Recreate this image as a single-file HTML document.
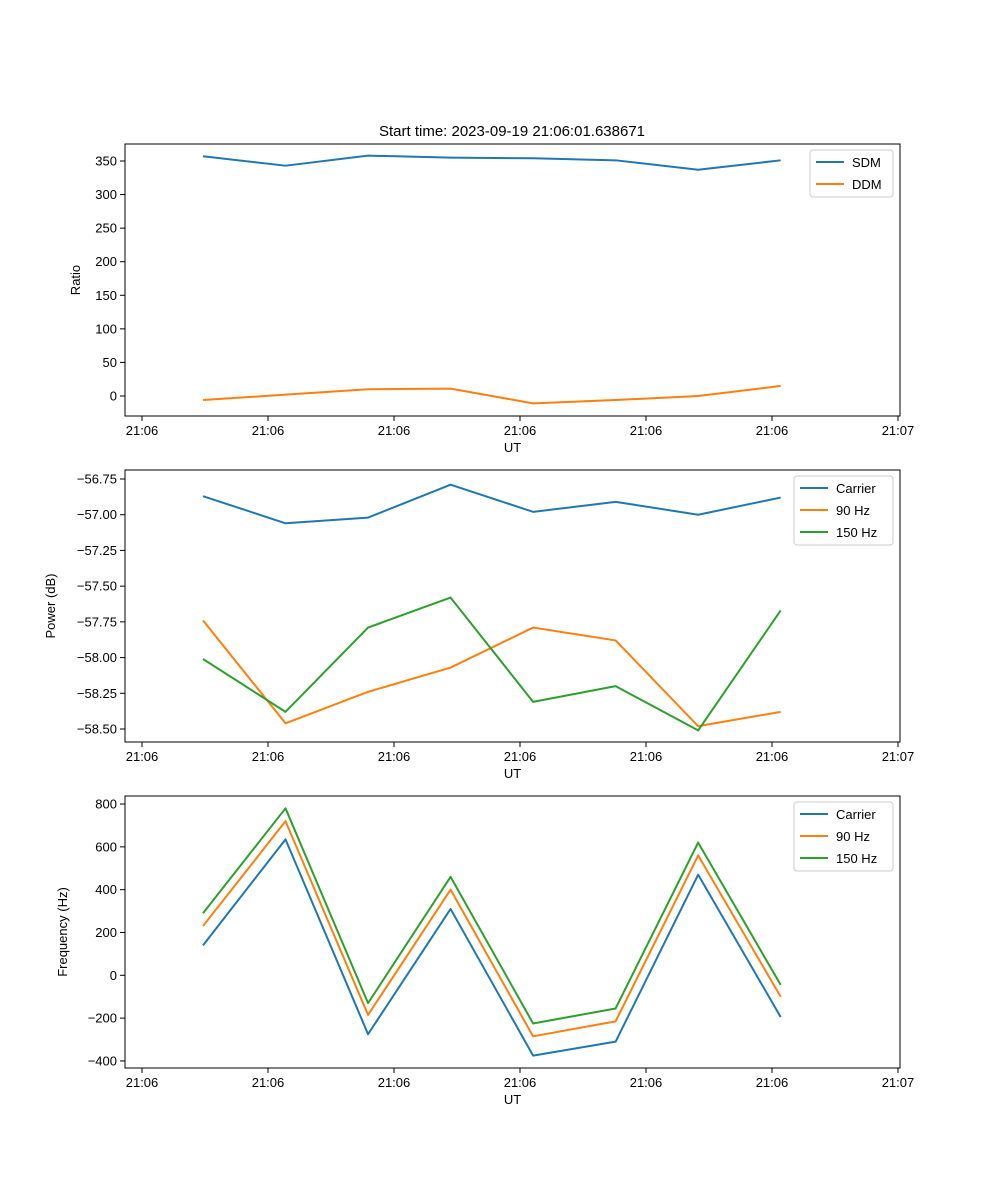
<!DOCTYPE html>
<html><head><meta charset="utf-8"><style>
body{margin:0;background:#fff}
svg{display:block;font-family:"Liberation Sans","DejaVu Sans",sans-serif}
</style></head><body>
<svg id="fig" width="1000" height="1200" viewBox="0 0 1000 1200" xmlns="http://www.w3.org/2000/svg">
<rect width="1000" height="1200" fill="#fff"/>
<text x="512" y="136" font-size="15" text-anchor="middle">Start time: 2023-09-19 21:06:01.638671</text>
</svg>
<script>
// shared data (seconds since 21:06:00)
const times = [4.84, 11.39, 17.94, 24.49, 31.04, 37.59, 44.14, 50.69];
const xTickVals = [0, 10, 20, 30, 40, 50, 60];
const xTickLabels = ["21:06","21:06","21:06","21:06","21:06","21:06","21:07"];
// panel 1
const sdm = [357, 343, 358, 355, 354, 351, 337, 351];
const ddm = [-6, 2, 10, 11, -11, -6, 0, 15];
const ratioTicks = [0, 50, 100, 150, 200, 250, 300, 350];
// panel 2
const powCarrier = [-56.87, -57.06, -57.02, -56.79, -56.98, -56.91, -57.00, -56.88];
const pow90 = [-57.74, -58.46, -58.24, -58.07, -57.79, -57.88, -58.48, -58.38];
const pow150 = [-58.01, -58.38, -57.79, -57.58, -58.31, -58.20, -58.51, -57.67];
const powTicks = [-58.5, -58.25, -58.0, -57.75, -57.5, -57.25, -57.0, -56.75];
// panel 3
const frqCarrier = [140, 635, -275, 310, -375, -310, 470, -195];
const frq90 = [230, 720, -185, 400, -285, -215, 560, -100];
const frq150 = [290, 780, -130, 460, -225, -155, 620, -45];
const frqTicks = [-400, -200, 0, 200, 400, 600, 800];

const C = ["#1f77b4", "#ff7f0e", "#2ca02c"];
const svg = document.getElementById('fig');
const NS = "http://www.w3.org/2000/svg";
function mk(tag, attrs, parent){const e=document.createElementNS(NS,tag);for(const k in attrs)e.setAttribute(k,attrs[k]);(parent||svg).appendChild(e);return e;}
const L=125,R=900,xmin=-1.35,xmax=60.16;
const xs=v=>L+(v-xmin)/(xmax-xmin)*(R-L);

function fmt(v,dec){let s=v.toFixed(dec);return v<0?"\u2212"+s.slice(1):s;}

function panel(id, top, bottom, ymin, ymax, yTicks, dec, ylabel, series, names, legend){
  const g=mk('g',{});
  
  
  const ys=v=>bottom-(v-ymin)/(ymax-ymin)*(bottom-top);
  series.forEach((s,i)=>{
    const p=mk('polyline',{points:s.map((v,j)=>xs(times[j])+","+ys(v)).join(" "),fill:"none",stroke:C[i],"stroke-width":2,"stroke-linejoin":"round"},g);
    
    
  });
  mk('rect',{x:L,y:top,width:R-L,height:bottom-top,fill:"none",stroke:"#000","stroke-width":1},g);
  xTickVals.forEach((v,i)=>{
    const x=xs(v);
    mk('line',{x1:x,x2:x,y1:bottom,y2:bottom+5,stroke:"#000"},g);
    const t=mk('text',{x:x,y:bottom+19,"font-size":13,"text-anchor":"middle"},g);t.textContent=xTickLabels[i];
    
    
  });
  yTicks.forEach(v=>{
    const y=ys(v);
    mk('line',{x1:L-5,x2:L,y1:y,y2:y,stroke:"#000"},g);
    const t=mk('text',{x:L-8,y:y+4.5,"font-size":13,"text-anchor":"end"},g);t.textContent=fmt(v,dec);
    
    
  });
  const xl=mk('text',{x:(L+R)/2,y:bottom+36,"font-size":13,"text-anchor":"middle"},g);xl.textContent="UT";
  
  
  const yx=legend.ylx,yy=(top+bottom)/2;
  const yl=mk('text',{x:yx,y:yy,"font-size":13,"text-anchor":"middle",transform:`rotate(-90 ${yx} ${yy})`},g);yl.textContent=ylabel;
  
  
  const lg=mk('g',{},g);
  
  
  mk('rect',{x:legend.x,y:top+6,width:R-7-legend.x,height:names.length*22+3,rx:3,fill:"#fff",stroke:"#ccc"},lg);
  names.forEach((n,i)=>{
    const y=top+18+i*22;
    mk('line',{x1:legend.x+6,x2:legend.x+34,y1:y,y2:y,stroke:C[i],"stroke-width":2},lg);
    const t=mk('text',{x:legend.x+42,y:y+5,"font-size":13},lg);t.textContent=n;
    
    
  });
}
panel('ratio-panel',144,416,-29.8,375.3,ratioTicks,0,"Ratio",[sdm,ddm],["SDM","DDM"],{x:810,ylx:80});
panel('power-panel',470,742,-58.591,-56.687,powTicks,2,"Power (dB)",[powCarrier,pow90,pow150],["Carrier","90 Hz","150 Hz"],{x:794,ylx:55});
panel('frequency-panel',796,1068,-433,837.5,frqTicks,0,"Frequency (Hz)",[frqCarrier,frq90,frq150],["Carrier","90 Hz","150 Hz"],{x:794,ylx:67});
</script>
</body></html>
